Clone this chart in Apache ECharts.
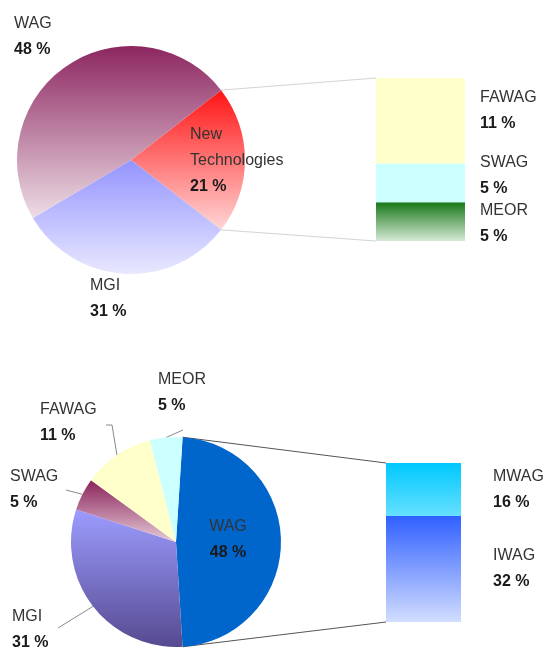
<!DOCTYPE html>
<html>
<head>
<meta charset="utf-8">
<script src="https://cdn.jsdelivr.net/npm/echarts@6/dist/echarts.min.js"></script>
<style>body{margin:0;background:#fff;}</style>
</head>
<body>
<div id="main" style="width:557px;height:648px;"></div>
<script type="text/javascript">
    // upper pie: overall split, new technologies broken down in the bar
    var topNames = ['New Technologies', 'MGI', 'WAG'];
    var topValues = [21, 31, 48];
    var newTechNames = ['MEOR', 'SWAG', 'FAWAG'];   // stacked bottom -> top
    var newTechValues = [5, 5, 11];

    // lower pie: WAG broken down in the bar
    var botNames = ['WAG', 'MGI', 'SWAG', 'FAWAG', 'MEOR'];
    var botValues = [48, 31, 5, 11, 5];
    var wagNames = ['IWAG', 'MWAG'];                // stacked bottom -> top
    var wagValues = [32, 16];

    function sum(a) { return a.reduce(function (s, v) { return s + v; }, 0); }
    function grad(c1, c2) {
        return new echarts.graphic.LinearGradient(0, 0, 0, 1, [
            { offset: 0, color: c1 }, { offset: 1, color: c2 }
        ]);
    }

    var font = "'Liberation Sans', Arial, sans-serif";
    var rich = {
        n: { fontSize: 16, color: '#333', fontFamily: font, lineHeight: 26 },
        v: { fontSize: 16, color: '#1a1a1a', fontWeight: 'bold', fontFamily: font, lineHeight: 26 }
    };
    function fmt(p) {
        var lines = p.name.split(' ').map(function (s) { return '{n|' + s + '}'; });
        lines.push('{v|' + p.value + ' %}');
        return lines.join('\n');
    }

    var topColors = {
        'New Technologies': grad('#ff1414', '#ffd6d6'),
        'MGI': grad('#9494ff', '#e8e8ff'),
        'WAG': grad('#8c2660', '#eddde5')
    };
    var ntColors = {
        'FAWAG': '#ffffcc',
        'SWAG': '#ccffff',
        'MEOR': grad('#187818', '#d6ead6')
    };
    var botColors = {
        'WAG': '#0066cc',
        'MGI': grad('#9c9cff', '#564a90'),
        'SWAG': grad('#8a245a', '#e6cad8'),
        'FAWAG': '#ffffcc',
        'MEOR': '#ccffff'
    };
    var wagColors = {
        'MWAG': grad('#00c8ff', '#66e0ff'),
        'IWAG': grad('#3060ff', '#d2ddff')
    };

    // geometry
    var topCenter = [131, 160], topR = 114;
    var botCenter = [176, 542], botR = 105;
    var topGrid = { left: 376, top: 78, width: 89, height: 163 };
    var botGrid = { left: 386, top: 463, width: 75, height: 159 };
    var topStart = 180 * topValues[0] / sum(topValues);
    var botStart = 180 * botValues[0] / sum(botValues);

    // label spots
    var topLabelPos = { 'WAG': [14, 11], 'MGI': [90, 273], 'New Technologies': [190, 122] };
    var botLabelPos = {
        'WAG': [228, 514, 'center'], 'MEOR': [158, 367], 'FAWAG': [40, 397],
        'SWAG': [10, 464], 'MGI': [12, 604]
    };
    var botLineEnd = { 'MEOR': [[183, 430], [183, 430]], 'FAWAG': [[112, 425], [106, 425]],
        'SWAG': [[66, 490], [66, 490]], 'MGI': [[58, 628], [58, 628]] };

    function edge(c, r, deg) {
        var a = deg * Math.PI / 180;
        return [c[0] + r * Math.cos(a), c[1] - r * Math.sin(a)];
    }

    var series = [];
    series.push({
        type: 'pie', center: topCenter, radius: topR, startAngle: topStart,
        silent: true, animation: false,
        data: topNames.map(function (n, i) {
            return { name: n, value: topValues[i], itemStyle: { color: topColors[n] } };
        }),
        label: { show: true, formatter: fmt, rich: rich, overflow: 'none', alignTo: 'none' },
        labelLine: { show: false },
        labelLayout: function (p) {
            var pos = topLabelPos[topNames[p.dataIndex]];
            return { x: pos[0], y: pos[1], align: 'left', verticalAlign: 'top' };
        }
    });
    series.push({
        type: 'pie', center: botCenter, radius: botR, startAngle: botStart,
        silent: true, animation: false,
        data: botNames.map(function (n, i) {
            return { name: n, value: botValues[i], itemStyle: { color: botColors[n] },
                labelLine: { show: n !== 'WAG' } };
        }),
        label: { show: true, formatter: fmt, rich: rich, overflow: 'none', alignTo: 'none' },
        labelLine: { show: true, length: 10, length2: 10, lineStyle: { color: '#8a8a8a', width: 1 } },
        labelLayout: function (p) {
            var n = botNames[p.dataIndex];
            var pos = botLabelPos[n];
            var res = { x: pos[0], y: pos[1], align: pos[2] || 'left', verticalAlign: 'top' };
            if (botLineEnd[n] && p.labelLinePoints) {
                res.labelLinePoints = [p.labelLinePoints[0], botLineEnd[n][0], botLineEnd[n][1]];
            }
            return res;
        }
    });

    var ntOffsets = { 'FAWAG': -10, 'SWAG': -7, 'MEOR': 2 };
    newTechNames.forEach(function (n, i) {
        series.push({
            type: 'bar', name: n, xAxisIndex: 0, yAxisIndex: 0, stack: 'nt',
            barWidth: '100%', silent: true, animation: false,
            data: [{ name: n, value: newTechValues[i] }],
            itemStyle: { color: ntColors[n] },
            label: { show: true, position: 'right', distance: 15, offset: [0, ntOffsets[n]],
                formatter: fmt, rich: rich }
        });
    });
    wagNames.forEach(function (n, i) {
        series.push({
            type: 'bar', name: n, xAxisIndex: 1, yAxisIndex: 1, stack: 'wag',
            barWidth: '100%', silent: true, animation: false,
            data: [{ name: n, value: wagValues[i] }],
            itemStyle: { color: wagColors[n] },
            label: { show: true, position: 'right', distance: 32, formatter: fmt, rich: rich }
        });
    });

    // connectors from the pie slice edges to the bar corners
    function connector(p, q, color) {
        return { type: 'line', z: -1, silent: true,
            shape: { x1: p[0], y1: p[1], x2: q[0], y2: q[1] },
            style: { stroke: color, lineWidth: 1 } };
    }
    var graphics = [
        connector(edge(topCenter, topR, topStart), [topGrid.left, topGrid.top], '#d4d4d4'),
        connector(edge(topCenter, topR, -topStart), [topGrid.left, topGrid.top + topGrid.height], '#d4d4d4'),
        connector(edge(botCenter, botR, botStart), [botGrid.left, botGrid.top], '#555'),
        connector(edge(botCenter, botR, -botStart), [botGrid.left, botGrid.top + botGrid.height], '#555')
    ];

    var myChart = echarts.init(document.getElementById('main'));
    var option = {
        animation: false,
        backgroundColor: '#fff',
        grid: [topGrid, botGrid],
        xAxis: [
            { type: 'category', gridIndex: 0, data: ['New Technologies'], show: false },
            { type: 'category', gridIndex: 1, data: ['WAG'], show: false }
        ],
        yAxis: [
            { type: 'value', gridIndex: 0, min: 0, max: sum(newTechValues), show: false },
            { type: 'value', gridIndex: 1, min: 0, max: sum(wagValues), show: false }
        ],
        graphic: graphics,
        series: series
    };
    myChart.setOption(option);
</script>
</body>
</html>
